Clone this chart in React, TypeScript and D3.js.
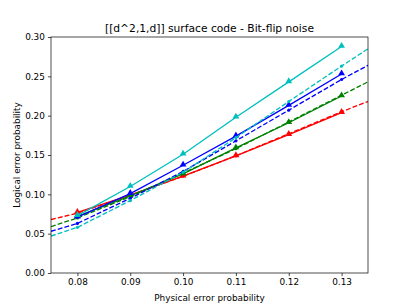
import React, { useEffect, useRef } from "react";
import * as d3 from "d3";

const physical = [0.08, 0.09, 0.1, 0.11, 0.12, 0.13];
const fitPhysical = [0.075, 0.08, 0.09, 0.1, 0.11, 0.12, 0.13, 0.135];

const redSim = [0.077, 0.099, 0.123, 0.149, 0.176, 0.204];
const greenSim = [0.072, 0.098, 0.126, 0.159, 0.191, 0.225];
const blueSim = [0.071, 0.101, 0.137, 0.174, 0.213, 0.253];
const cyanSim = [0.073, 0.11, 0.151, 0.198, 0.243, 0.288];

const redFit = [0.068, 0.076, 0.099, 0.123, 0.149, 0.177, 0.205, 0.218];
const greenFit = [0.059, 0.07, 0.097, 0.127, 0.158, 0.192, 0.226, 0.243];
const blueFit = [0.053, 0.063, 0.095, 0.129, 0.168, 0.207, 0.246, 0.264];
const cyanFit = [0.047, 0.058, 0.092, 0.128, 0.172, 0.218, 0.263, 0.285];

const xTicks = [0.08, 0.09, 0.1, 0.11, 0.12, 0.13];
const yTicks = [0, 0.05, 0.1, 0.15, 0.2, 0.25, 0.3];

const series = [
  { color: "#ff0000", sim: redSim, fit: redFit },
  { color: "#008000", sim: greenSim, fit: greenFit },
  { color: "#0000ff", sim: blueSim, fit: blueFit },
  { color: "#00bfbf", sim: cyanSim, fit: cyanFit },
];

const W = 409;
const H = 307;
const margin = { top: 37, right: 41, bottom: 34, left: 51 };
const FONT = "DejaVu Sans, sans-serif";

export default function App() {
  const ref = useRef<SVGSVGElement | null>(null);

  useEffect(() => {
    const svg = d3.select(ref.current);
    svg.selectAll("*").remove();

    const width = W - margin.left - margin.right;
    const height = H - margin.top - margin.bottom;

    const x = d3.scaleLinear().domain([0.075, 0.135]).range([0, width]);
    const y = d3.scaleLinear().domain([0, 0.3]).range([height, 0]);

    svg.append("rect").attr("width", W).attr("height", H).attr("fill", "#fff");

    const defs = svg.append("defs");
    defs
      .append("clipPath")
      .attr("id", "plot-clip")
      .append("rect")
      .attr("width", width)
      .attr("height", height);

    const g = svg
      .append("g")
      .attr("transform", `translate(${margin.left},${margin.top})`);

    const plot = g.append("g").attr("clip-path", "url(#plot-clip)");

    const line = d3
      .line<[number, number]>()
      .x((d) => x(d[0]))
      .y((d) => y(d[1]));

    const tri = d3.symbol().type(d3.symbolTriangle).size(20);

    series.forEach((s) => {
      const simPts = physical.map((p, i) => [p, s.sim[i]] as [number, number]);
      const fitPts = fitPhysical.map((p, i) => [p, s.fit[i]] as [number, number]);

      plot
        .append("path")
        .attr("d", line(simPts))
        .attr("fill", "none")
        .attr("stroke", s.color)
        .attr("stroke-width", 1.33);

      plot
        .selectAll(null)
        .data(simPts)
        .enter()
        .append("path")
        .attr("d", tri)
        .attr("transform", (d) => `translate(${x(d[0])},${y(d[1]) - 0.6})`)
        .attr("fill", s.color);

      plot
        .append("path")
        .attr("d", line(fitPts))
        .attr("fill", "none")
        .attr("stroke", s.color)
        .attr("stroke-width", 1.33)
        .attr("stroke-dasharray", "4.9,2.1");

      plot
        .selectAll(null)
        .data(fitPts.filter((d) => d[0] >= 0.08 && d[0] <= 0.13))
        .enter()
        .append("circle")
        .attr("cx", (d) => x(d[0]))
        .attr("cy", (d) => y(d[1]))
        .attr("r", 1.6)
        .attr("fill", s.color);
    });

    // AXES
    const xAxis = g
      .append("g")
      .attr("transform", `translate(0,${height})`)
      .call(
        d3
          .axisBottom(x)
          .tickValues(xTicks)
          .tickFormat(d3.format(".2f"))
          .tickSize(3.1)
          .tickPadding(3)
      );

    const yAxis = g.append("g").call(
      d3
        .axisLeft(y)
        .tickValues(yTicks)
        .tickFormat(d3.format(".2f"))
        .tickSize(3.1)
        .tickPadding(3)
    );

    [xAxis, yAxis].forEach((a) => {
      a.select(".domain").remove();
      a.selectAll("line").attr("stroke", "#000").attr("stroke-width", 0.7);
      a.selectAll("text")
        .attr("font-family", FONT)
        .attr("font-size", "8.9px")
        .attr("fill", "#000");
    });

    g.append("rect")
      .attr("width", width)
      .attr("height", height)
      .attr("fill", "none")
      .attr("stroke", "#000")
      .attr("stroke-width", 0.7);

    // Labels
    g.append("text")
      .attr("x", width / 2)
      .attr("y", height + 28)
      .attr("text-anchor", "middle")
      .attr("font-family", FONT)
      .attr("font-size", "8.9px")
      .text("Physical error probability");

    g.append("text")
      .attr("transform", "rotate(-90)")
      .attr("x", -height / 2)
      .attr("y", -31)
      .attr("text-anchor", "middle")
      .attr("font-family", FONT)
      .attr("font-size", "8.9px")
      .text("Logical error probability");

    // TITLE
    g.append("text")
      .attr("x", width / 2)
      .attr("y", -5.5)
      .attr("text-anchor", "middle")
      .attr("font-family", FONT)
      .attr("font-size", "10.7px")
      .text("[[d^2,1,d]] surface code - Bit-flip noise");
  }, []);

  return (
    <svg
      ref={ref}
      width={W}
      height={H}
      style={{ position: "absolute", left: 0, top: 0 }}
    />
  );
}
